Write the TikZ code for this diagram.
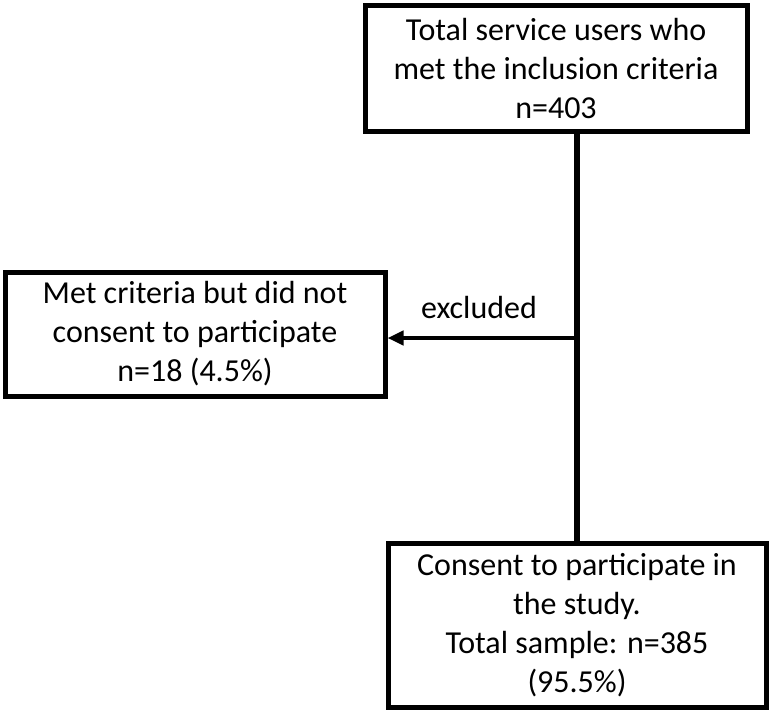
\documentclass[tikz,border=0pt]{standalone}
\usepackage{fontspec}
\setmainfont{Carlito}
\usetikzlibrary{arrows.meta}

\begin{document}
\begin{tikzpicture}[x=0.5pt,y=-0.5pt,
    txt/.style={font=\fontsize{16}{19.5}\selectfont},
    box/.style={txt, draw, line width=2.5pt, align=center, inner sep=0pt},
    flow/.style={line width=2.8pt},
    excl/.style={line width=2pt, -{Triangle[length=8pt,width=7pt]}}
  ]
    \useasboundingbox (0,0) rectangle (774,712);
    \node[box, minimum width=191pt, minimum height=63pt] (total) at (556,68)
      {Total service users who\\met the inclusion criteria\\n=403};
    \node[box, minimum width=190pt, minimum height=62pt] (declined) at (195,334)
      {Met criteria but did not\\consent to participate\\n=18 (4.5\%)};
    \node[box, minimum width=189pt, minimum height=82pt] (sample) at (577,625)
      {Consent to participate in\\the study.\\Total sample: n=385\\(95.5\%)};
    \coordinate (split) at (577,338);
    \node[txt] (exlabel) at (479,308) {excluded};
    \draw[flow] (total.south -| split) -- (sample.north);
    \draw[excl] (split) -- (declined.east |- split);
  \end{tikzpicture}
\end{document}
